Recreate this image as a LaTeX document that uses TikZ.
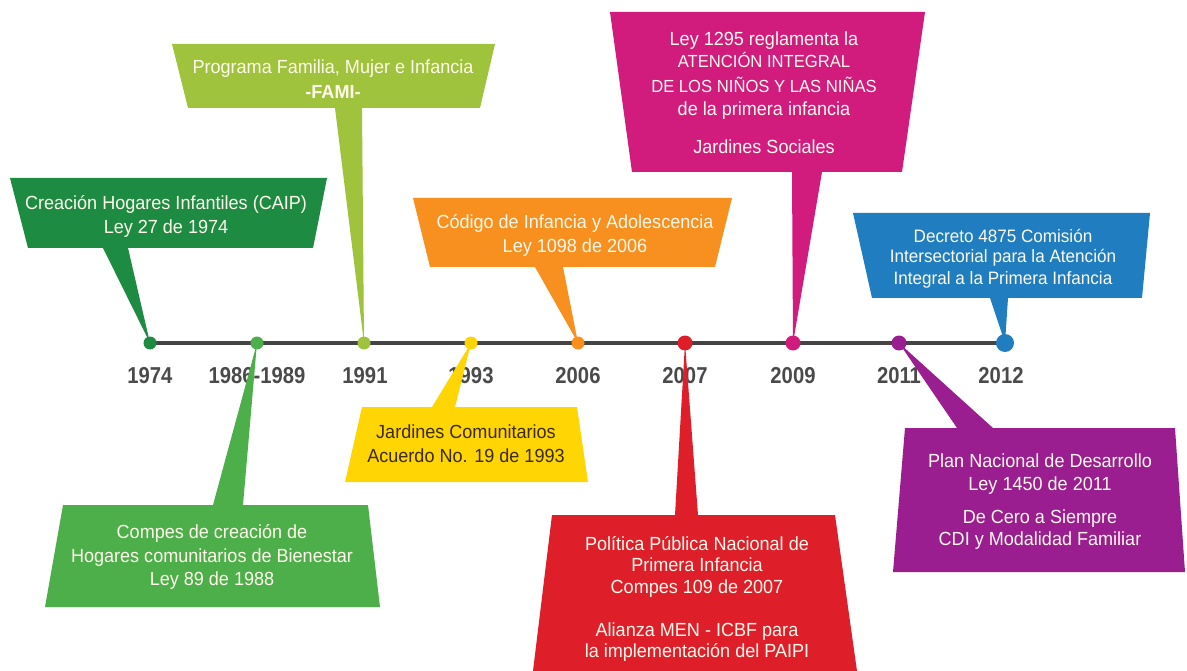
\documentclass[tikz,border=0pt]{standalone}
\usepackage{fontspec}
\setmainfont{Liberation Sans}[FakeStretch=0.95]
\newfontfamily\yearfont{Liberation Sans}[FakeStretch=0.88]
\definecolor{cDG}{HTML}{1E8B43}
\definecolor{cG}{HTML}{4DAF4A}
\definecolor{cYG}{HTML}{9FC33D}
\definecolor{cY}{HTML}{FFD503}
\definecolor{cO}{HTML}{F7901E}
\definecolor{cR}{HTML}{DE1F2A}
\definecolor{cM}{HTML}{D11C7E}
\definecolor{cP}{HTML}{9A1E8F}
\definecolor{cB}{HTML}{1F7DC0}
\definecolor{cLine}{HTML}{444444}
\definecolor{cYear}{HTML}{4A4A4A}
\definecolor{cTxt}{HTML}{FFF9EC}
\definecolor{cDark}{HTML}{3B2A14}
\begin{document}
\begin{tikzpicture}[x=1pt,y=-1pt,
  dotnode/.style={circle, inner sep=0pt, minimum size=13pt},
  bigdot/.style={circle, inner sep=0pt, minimum size=18pt},
  yr/.style={font=\yearfont\bfseries\fontsize{23}{23}\selectfont, text=cYear, anchor=base, inner sep=0pt},
  ln/.style={font=\fontsize{19}{22}\selectfont, text=cTxt, anchor=base, inner sep=0pt},
  lnsmall/.style={ln, font=\fontsize{18}{21}\selectfont},
  lncaps/.style={ln, font=\fontsize{17.5}{20}\selectfont}]
\useasboundingbox (0,0) rectangle (1187,671);
\fill[white] (0,0) rectangle (1187,671);
% timeline points
\coordinate (p1) at (150,343);
\coordinate (p2) at (257,343);
\coordinate (p3) at (364,343);
\coordinate (p4) at (471,343);
\coordinate (p5) at (578,343);
\coordinate (p6) at (685,343);
\coordinate (p7) at (793,343);
\coordinate (p8) at (899,343);
\coordinate (p9) at (1005,343);
\draw[cLine, line width=4pt] (p1) -- (p9);
% years
\node[yr] (y1) at (150,383) {1974};
\node[yr] (y2) at (257,383) {1986-1989};
\node[yr] (y3) at (365,383) {1991};
\node[yr] (y4) at (471,383) {1993};
\node[yr] (y5) at (578,383) {2006};
\node[yr] (y6) at (685,383) {2007};
\node[yr] (y7) at (793,383) {2009};
\node[yr] (y8) at (899,383) {2011};
\node[yr] (y9) at (1001,383) {2012};
% callouts above
\fill[cDG] (10,178) -- (327,178) -- (313,248) -- (128,248) -- (p1) -- (103,248) -- (28,248) -- cycle;
\fill[cYG] (172,44) -- (495,44) -- (480,108) -- (362,108) -- (p3) -- (335,108) -- (188,108) -- cycle;
\fill[cO] (413,198) -- (732,198) -- (715,267) -- (563,267) -- (p5) -- (535,267) -- (430,267) -- cycle;
\fill[cM] (610,12) -- (925,12) -- (902,172) -- (822,172) -- (p7) -- (792,172) -- (632,172) -- cycle;
\fill[cB] (853,213) -- (1150,213) -- (1142,298) -- (1008,298) -- (p9) -- (990,298) -- (872,298) -- cycle;
% callouts below
\fill[cG] (63,505) -- (213,505) -- (p2) -- (243,505) -- (368,505) -- (380,607) -- (45,607) -- cycle;
\fill[cY] (362,407) -- (432,407) -- (p4) -- (455,407) -- (577,407) -- (588,482) -- (345,482) -- cycle;
\fill[cR] (552,515) -- (675,515) -- (p6) -- (698,515) -- (835,515) -- (857,671) -- (533,671) -- cycle;
\fill[cP] (905,428) -- (957,428) -- (p8) -- (993,428) -- (1175,428) -- (1185,572) -- (893,572) -- cycle;
% dots
\node[dotnode, fill=cDG] (d1) at (p1) {};
\node[dotnode, fill=cG] (d2) at (p2) {};
\node[dotnode, fill=cYG] (d3) at (p3) {};
\node[dotnode, fill=cY] (d4) at (p4) {};
\node[dotnode, fill=cO] (d5) at (p5) {};
\node[dotnode, fill=cR, minimum size=15pt] (d6) at (p6) {};
\node[dotnode, fill=cM, minimum size=15pt] (d7) at (p7) {};
\node[dotnode, fill=cP, minimum size=15pt] (d8) at (p8) {};
\node[bigdot, fill=cB] (d9) at (p9) {};
% texts
\node[ln] (t1a) at (166,210) {Creación Hogares Infantiles (CAIP)};
\node[ln] (t1b) at (166,234) {Ley 27 de 1974};
\node[ln] (t3a) at (333,74) {Programa Familia, Mujer e Infancia};
\node[ln] (t3b) at (333,99) {\bfseries -FAMI-};
\node[ln] (t5a) at (575,229) {Código de Infancia y Adolescencia};
\node[ln] (t5b) at (575,253) {Ley 1098 de 2006};
\node[ln] (t7a) at (764,46) {Ley 1295 reglamenta la};
\node[lncaps] (t7b) at (764,68) {ATENCIÓN INTEGRAL};
\node[lncaps] (t7c) at (764,93) {DE LOS NIÑOS Y LAS NIÑAS};
\node[ln] (t7d) at (764,116) {de la primera infancia};
\node[ln] (t7e) at (764,154) {Jardines Sociales};
\node[lnsmall] (t9a) at (1003,243) {Decreto 4875 Comisión};
\node[lnsmall] (t9b) at (1003,263) {Intersectorial para la Atención};
\node[lnsmall] (t9c) at (1003,285) {Integral a la Primera Infancia};
\node[ln] (t2a) at (212,538) {Compes de creación de};
\node[ln] (t2b) at (212,562) {Hogares comunitarios de Bienestar};
\node[ln] (t2c) at (212,585) {Ley 89 de 1988};
\node[ln, text=cDark] (t4a) at (466,438) {Jardines Comunitarios};
\node[ln, text=cDark] (t4b) at (466,462) {Acuerdo No. 19 de 1993};
\node[ln] (t6a) at (697,550) {Política Pública Nacional de};
\node[ln] (t6b) at (697,571) {Primera Infancia};
\node[ln] (t6c) at (697,593) {Compes 109 de 2007};
\node[ln] (t6d) at (697,636) {Alianza MEN - ICBF para};
\node[ln] (t6e) at (697,657) {la implementación del PAIPI};
\node[ln] (t8a) at (1040,467) {Plan Nacional de Desarrollo};
\node[ln] (t8b) at (1040,490) {Ley 1450 de 2011};
\node[ln] (t8c) at (1040,523) {De Cero a Siempre};
\node[ln] (t8d) at (1040,545) {CDI y Modalidad Familiar};
\end{tikzpicture}
\end{document}
